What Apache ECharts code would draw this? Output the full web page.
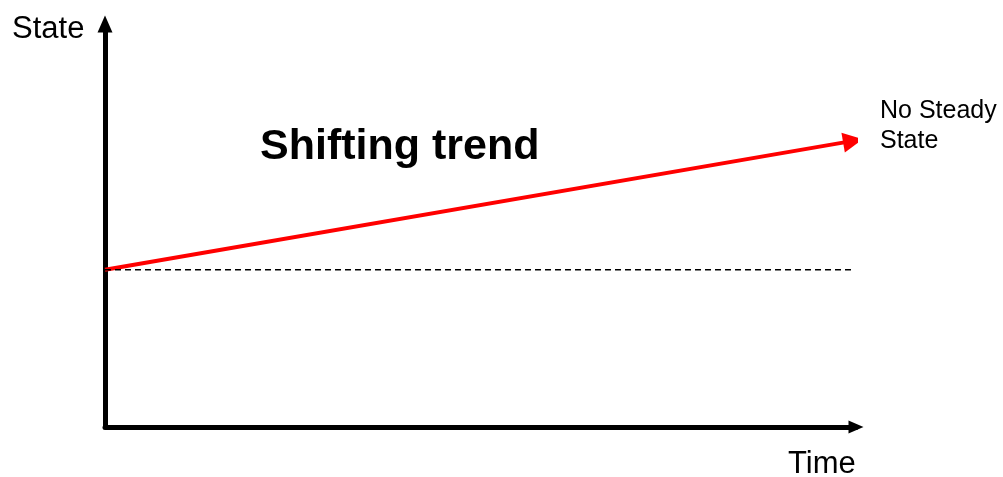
<!DOCTYPE html>
<html>
<head>
<meta charset="utf-8">
<script src="https://cdn.jsdelivr.net/npm/echarts@6/dist/echarts.min.js"></script>
<style>html,body{margin:0;padding:0;background:#fff;}#c{width:1003px;height:477px;}</style>
</head>
<body>
<div id="c"></div>
<script>
// Data
var trendLine = [[0, 39], [99.6, 71]];        // shifting trend (red arrow)
var baselineLine = [[0, 39], [99.6, 39]];     // initial state (dashed)
var xRange = [0, 100];
var yRange = [0, 100];
var axisNames = { x: 'Time', y: 'State' };
var trendLabel = 'Shifting trend';
var endLabel = ['No Steady', 'State'];

var chart = echarts.init(document.getElementById('c'));
chart.setOption({
  animation: false,
  grid: { left: 105, right: 147, top: 24, bottom: 50 },
  xAxis: {
    type: 'value', min: xRange[0], max: xRange[1],
    axisLine: { show: true, symbol: ['none', 'triangle'], symbolSize: [13, 15], symbolOffset: [0, 0], lineStyle: { color: '#000', width: 5 } },
    axisTick: { show: false }, axisLabel: { show: false }, splitLine: { show: false }
  },
  yAxis: {
    type: 'value', min: yRange[0], max: yRange[1],
    axisLine: { show: true, symbol: ['none', 'triangle'], symbolSize: [15, 17], symbolOffset: [0, 0], lineStyle: { color: '#000', width: 5 } },
    axisTick: { show: false }, axisLabel: { show: false }, splitLine: { show: false }
  },
  series: [
    {
      type: 'line', data: baselineLine, symbol: 'none', silent: true,
      lineStyle: { color: '#000', width: 1.5, type: [6, 4] }
    },
    {
      type: 'lines', coordinateSystem: 'cartesian2d', silent: true,
      symbol: ['none', 'triangle'], symbolSize: [28, 20],
      lineStyle: { color: '#ff0000', width: 4, opacity: 1 },
      data: [{ coords: trendLine }]
    }
  ],
  graphic: [
    { type: 'text', left: 12, top: 14, style: { text: axisNames.y, font: '31px "Liberation Sans", Arial, sans-serif', fill: '#000' } },
    { type: 'text', left: 788, top: 449, style: { text: axisNames.x, font: '31px "Liberation Sans", Arial, sans-serif', fill: '#000' } },
    { type: 'text', left: 260, top: 126, style: { text: trendLabel, font: 'bold 43px "Liberation Sans", Arial, sans-serif', fill: '#000' } },
    { type: 'text', left: 880, top: 96, style: { text: endLabel.join('\n'), font: '25px "Liberation Sans", Arial, sans-serif', lineHeight: 30, fill: '#000' } }
  ]
});
</script>
</body>
</html>
